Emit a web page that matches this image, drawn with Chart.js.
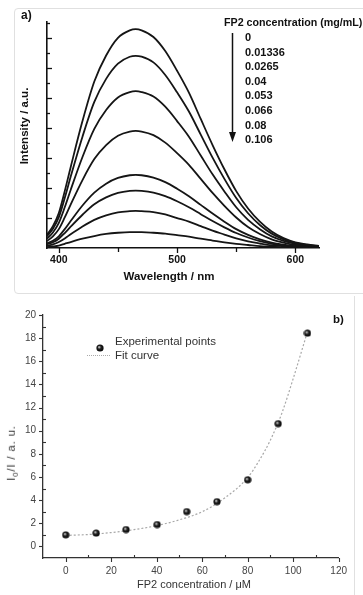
<!DOCTYPE html>
<html lang="en">
<head>
    <meta charset="UTF-8">
    <title>FP2 quenching</title>
    <script src="https://cdn.jsdelivr.net/npm/chart.js"></script>
    <style>
        body {
            margin: 0;
            width: 363px;
            height: 595px;
            overflow: hidden;
            background: white;
            position: relative;
            font-family: 'Liberation Sans', Arial, sans-serif;
        }
        .abs { position: absolute; }
        .txt {
            position: absolute;
            line-height: 1;
            white-space: nowrap;
            transform: translate(0, -50%);
        }
        .ctr { transform: translate(-50%, -50%); }
        .rot { transform: translate(-50%, -50%) rotate(-90deg); }
        .bold { font-weight: bold; color: #111; }
        .reg { color: #333; }
        #frameA {
            left: 14px; top: 8px; width: 360px; height: 284px;
            border: 1px solid #e0e0e0; border-radius: 4px;
        }
        #frameB {
            left: 0; top: 296px; width: 354px; height: 299px;
            border-right: 1px solid #e0e0e0;
        }
        #boxA { left: 0; top: 0; width: 363px; height: 295px; }
        #boxB { left: 0; top: 296px; width: 354px; height: 299px; }
    </style>
</head>
<body>
    <div id="frameA" class="abs"></div>
    <div id="frameB" class="abs"></div>
    <div id="boxA" class="abs"><canvas id="chartA"></canvas></div>
    <div id="boxB" class="abs"><canvas id="chartB"></canvas></div>

    <!-- panel a texts -->
    <div class="txt bold" style="left:21px; top:15px; font-size:12px;">a)</div>
    <div class="txt bold" style="left:224px; top:22px; font-size:10.7px;">FP2 concentration (mg/mL)</div>
    <div id="concList"></div>
    <svg class="abs" style="left:227px; top:32px;" width="11" height="112">
        <line x1="5.5" y1="1" x2="5.5" y2="100" stroke="#111" stroke-width="1.5"/>
        <polygon points="2,100 9,100 5.5,110" fill="#111"/>
    </svg>
    <div class="txt bold ctr" style="left:169px; top:277px; font-size:11.5px;">Wavelength / nm</div>
    <div class="txt bold rot" style="left:25px; top:126px; font-size:11.5px;">Intensity / a.u.</div>

    <!-- panel b texts -->
    <div class="txt bold" style="left:333px; top:320px; font-size:11.5px;">b)</div>
    <div id="legMarker" class="abs" style="left:96px; top:338px;"></div>
    <div class="txt reg" style="left:115px; top:342px; font-size:11.5px;">Experimental points</div>
    <div class="abs" style="left:87px; top:355px; width:23px; border-top:1.2px dotted #aaa;"></div>
    <div class="txt reg" style="left:115px; top:356px; font-size:11.5px;">Fit curve</div>
    <div class="txt reg ctr" style="left:194px; top:584px; font-size:11px;">FP2 concentration / &mu;M</div>
    <div class="txt reg rot" style="left:13px; top:453px; font-size:11.5px; letter-spacing:0.8px;">I<sub style="font-size:8px;">0</sub>/I / a. u.</div>

    <script>
        // ---- panel a: emission spectra ----
        var wavelength = [390, 395, 400, 405, 410, 420, 430, 440, 450, 460, 465, 470, 480, 490, 500,
                          510, 520, 530, 540, 550, 560, 570, 580, 590, 600, 610, 620];
        var curve1 = [0.44, 0.73, 1.17, 1.90, 2.70, 4.24, 5.56, 6.43, 7.02, 7.27, 7.31, 7.27, 7.05, 6.58, 5.92,
                      5.19, 4.31, 3.44, 2.63, 1.90, 1.32, 0.88, 0.55, 0.33, 0.19, 0.12, 0.07];
        var curve2 = [0.39, 0.64, 1.03, 1.67, 2.38, 3.72, 4.88, 5.65, 6.16, 6.39, 6.42, 6.39, 6.20, 5.78, 5.20,
                      4.56, 3.79, 3.02, 2.31, 1.67, 1.16, 0.77, 0.48, 0.29, 0.17, 0.10, 0.06];
        var curve3 = [0.31, 0.52, 0.84, 1.36, 1.94, 3.04, 3.98, 4.61, 5.03, 5.21, 5.24, 5.21, 5.06, 4.72, 4.24,
                      3.72, 3.09, 2.46, 1.89, 1.36, 0.94, 0.63, 0.39, 0.24, 0.14, 0.08, 0.05];
        var curve4 = [0.23, 0.39, 0.63, 1.02, 1.45, 2.27, 2.97, 3.44, 3.75, 3.89, 3.91, 3.89, 3.77, 3.52, 3.17,
                      2.78, 2.31, 1.84, 1.41, 1.02, 0.70, 0.47, 0.29, 0.18, 0.10, 0.06, 0.04];
        var curve5 = [0.15, 0.24, 0.39, 0.63, 0.90, 1.42, 1.85, 2.15, 2.34, 2.43, 2.44, 2.43, 2.35, 2.20, 1.98,
                      1.73, 1.44, 1.15, 0.88, 0.63, 0.44, 0.29, 0.18, 0.11, 0.06, 0.04, 0.02];
        var curve6 = [0.12, 0.19, 0.31, 0.50, 0.71, 1.11, 1.46, 1.69, 1.84, 1.91, 1.92, 1.91, 1.85, 1.73, 1.56,
                      1.36, 1.13, 0.90, 0.69, 0.50, 0.35, 0.23, 0.14, 0.09, 0.05, 0.03, 0.02];
        var curve7 = [0.07, 0.12, 0.20, 0.32, 0.46, 0.72, 0.94, 1.09, 1.19, 1.23, 1.24, 1.23, 1.20, 1.12, 1.00,
                      0.88, 0.73, 0.58, 0.45, 0.32, 0.22, 0.15, 0.09, 0.06, 0.03, 0.02, 0.01];
        var curve8 = [0.03, 0.05, 0.08, 0.14, 0.20, 0.31, 0.40, 0.47, 0.51, 0.53, 0.53, 0.53, 0.51, 0.48, 0.43,
                      0.38, 0.31, 0.25, 0.19, 0.14, 0.10, 0.06, 0.04, 0.02, 0.01, 0.01, 0.01];
        var concLabels = ['0', '0.01336', '0.0265', '0.04', '0.053', '0.066', '0.08', '0.106'];
        var waveTicks = [400, 500, 600];
        var waveMinor = [450, 550];
        var intMajor = [1, 2, 3, 4, 5, 6, 7];
        var intMinor = [0.5, 1.5, 2.5, 3.5, 4.5, 5.5, 6.5, 7.5];

        // ---- panel b: Stern-Volmer plot ----
        var concUM = [0, 13.36, 26.5, 40.2, 53.2, 66.5, 80, 93.4, 106.3];
        var ratio = [1.0, 1.15, 1.46, 1.89, 3.01, 3.87, 5.76, 10.61, 18.43];
        var fitX = [0, 10, 20, 30, 40, 50, 60, 70, 80, 85, 90, 95, 100, 106.5];
        var fitY = [0.95, 1.03, 1.2, 1.45, 1.8, 2.3, 3.0, 4.2, 5.95, 7.4, 9.2, 11.5, 14.5, 18.7];
        var concTicks = [0, 20, 40, 60, 80, 100, 120];
        var concMinor = [10, 30, 50, 70, 90, 110];
        var ratioTicks = [0, 2, 4, 6, 8, 10, 12, 14, 16, 18, 20];
        var ratioMinor = [1, 3, 5, 7, 9, 11, 13, 15, 17, 19];

        var FONT = "'Liberation Sans', Arial, sans-serif";

        // concentration list next to the arrow
        var list = document.getElementById('concList');
        concLabels.forEach(function (lab, i) {
            var d = document.createElement('div');
            d.className = 'txt bold';
            d.style.left = '245px';
            d.style.top = (37 + i * 14.6) + 'px';
            d.style.fontSize = '11px';
            d.textContent = lab;
            list.appendChild(d);
        });

        // small shaded ball used as the point marker
        function makeSphere() {
            var c = document.createElement('canvas');
            c.width = 8; c.height = 8;
            var g = c.getContext('2d');
            var grad = g.createRadialGradient(3, 3, 0.2, 4, 4, 4);
            grad.addColorStop(0, '#d8d8d8');
            grad.addColorStop(0.4, '#222');
            grad.addColorStop(1, '#000');
            g.fillStyle = grad;
            g.beginPath();
            g.arc(4, 4, 3.6, 0, 2 * Math.PI);
            g.fill();
            return c;
        }
        document.getElementById('legMarker').appendChild(makeSphere());

        // tick marks (major + minor, in or out) drawn from the scales
        var tickMarks = {
            id: 'tickMarks',
            afterDatasetsDraw: function (chart, args, opts) {
                var ctx = chart.ctx;
                var area = chart.chartArea;
                ctx.save();
                ctx.strokeStyle = opts.color;
                ctx.lineWidth = opts.width;
                ['x', 'y'].forEach(function (id) {
                    var s = chart.scales[id];
                    var o = opts[id];
                    function draw(vals, len, dir) {
                        vals.forEach(function (v) {
                            var p = Math.round(s.getPixelForValue(v)) + 0.5;
                            ctx.beginPath();
                            if (s.isHorizontal()) {
                                ctx.moveTo(p, area.bottom);
                                ctx.lineTo(p, area.bottom + (dir === 'out' ? len : -len));
                            } else {
                                ctx.moveTo(area.left, p);
                                ctx.lineTo(area.left + (dir === 'out' ? -len : len), p);
                            }
                            ctx.stroke();
                        });
                    }
                    draw(o.major, o.majorLen, o.majorDir);
                    draw(o.minor, o.minorLen, o.minorDir);
                });
                ctx.restore();
            }
        };

        function fixWidth(w) { return function (scale) { scale.width = w; }; }
        function fixHeight(h) { return function (scale) { scale.height = h; }; }

        var curves = [curve1, curve2, curve3, curve4, curve5, curve6, curve7, curve8];
        var spectra = curves.map(function (c, k) {
            return {
                label: concLabels[k],
                data: wavelength.map(function (w, i) { return { x: w, y: c[i] }; }),
                borderColor: '#151515',
                borderWidth: 1.8,
                pointRadius: 0,
                fill: false,
                cubicInterpolationMode: 'monotone'
            };
        });

        new Chart(document.getElementById('chartA'), {
            type: 'line',
            data: { datasets: spectra },
            options: {
                responsive: true,
                maintainAspectRatio: false,
                animation: false,
                layout: { padding: { left: 0, right: 44, top: 22, bottom: 0 } },
                plugins: {
                    legend: { display: false },
                    tooltip: { enabled: false },
                    tickMarks: {
                        color: '#111', width: 1.3,
                        x: { major: waveTicks, minor: waveMinor, majorLen: 5, minorLen: 4, majorDir: 'out', minorDir: 'out' },
                        y: { major: intMajor, minor: intMinor, majorLen: 5, minorLen: 3, majorDir: 'in', minorDir: 'in' }
                    }
                },
                scales: {
                    x: {
                        type: 'linear', min: 390, max: 620,
                        grid: { display: false, drawTicks: false },
                        border: { display: true, color: '#111', width: 1.6 },
                        afterBuildTicks: function (s) { s.ticks = waveTicks.map(function (v) { return { value: v }; }); },
                        afterFit: fixHeight(47),
                        ticks: { padding: 6, color: '#111', maxRotation: 0, autoSkip: false,
                                 font: { family: FONT, size: 10.5, weight: 'bold' } }
                    },
                    y: {
                        min: 0, max: 7.55,
                        grid: { display: false, drawTicks: false },
                        border: { display: true, color: '#111', width: 1.6 },
                        ticks: { display: false },
                        afterFit: fixWidth(47)
                    }
                }
            },
            plugins: [tickMarks]
        });

        new Chart(document.getElementById('chartB'), {
            type: 'scatter',
            data: {
                datasets: [{
                    label: 'Experimental points',
                    data: concUM.map(function (c, i) { return { x: c, y: ratio[i] }; }),
                    pointStyle: makeSphere(),
                    order: 1
                }, {
                    type: 'line',
                    label: 'Fit curve',
                    data: fitX.map(function (c, i) { return { x: c, y: fitY[i] }; }),
                    borderColor: '#a8a8a8',
                    borderWidth: 1.2,
                    borderDash: [2, 2],
                    pointRadius: 0,
                    fill: false,
                    cubicInterpolationMode: 'monotone',
                    order: 2
                }]
            },
            options: {
                responsive: true,
                maintainAspectRatio: false,
                animation: false,
                layout: { padding: { left: 0, right: 9, top: 19, bottom: 0 } },
                plugins: {
                    legend: { display: false },
                    tooltip: { enabled: false },
                    tickMarks: {
                        color: '#333', width: 1.1,
                        x: { major: concTicks, minor: concMinor, majorLen: 4, minorLen: 3, majorDir: 'out', minorDir: 'in' },
                        y: { major: ratioTicks, minor: ratioMinor, majorLen: 4, minorLen: 3, majorDir: 'out', minorDir: 'in' }
                    }
                },
                scales: {
                    x: {
                        type: 'linear', min: -10, max: 120,
                        grid: { display: false, drawTicks: false },
                        border: { display: true, color: '#333', width: 1.3 },
                        afterBuildTicks: function (s) { s.ticks = concTicks.map(function (v) { return { value: v }; }); },
                        afterFit: fixHeight(37),
                        ticks: { padding: 7, color: '#444', maxRotation: 0, autoSkip: false,
                                 font: { family: FONT, size: 10 } }
                    },
                    y: {
                        min: -1, max: 20,
                        grid: { display: false, drawTicks: false },
                        border: { display: true, color: '#333', width: 1.3 },
                        afterBuildTicks: function (s) { s.ticks = ratioTicks.map(function (v) { return { value: v }; }); },
                        afterFit: fixWidth(43),
                        ticks: { padding: 7, color: '#444', autoSkip: false, font: { family: FONT, size: 10 } }
                    }
                }
            },
            plugins: [tickMarks]
        });
    </script>
</body>
</html>
